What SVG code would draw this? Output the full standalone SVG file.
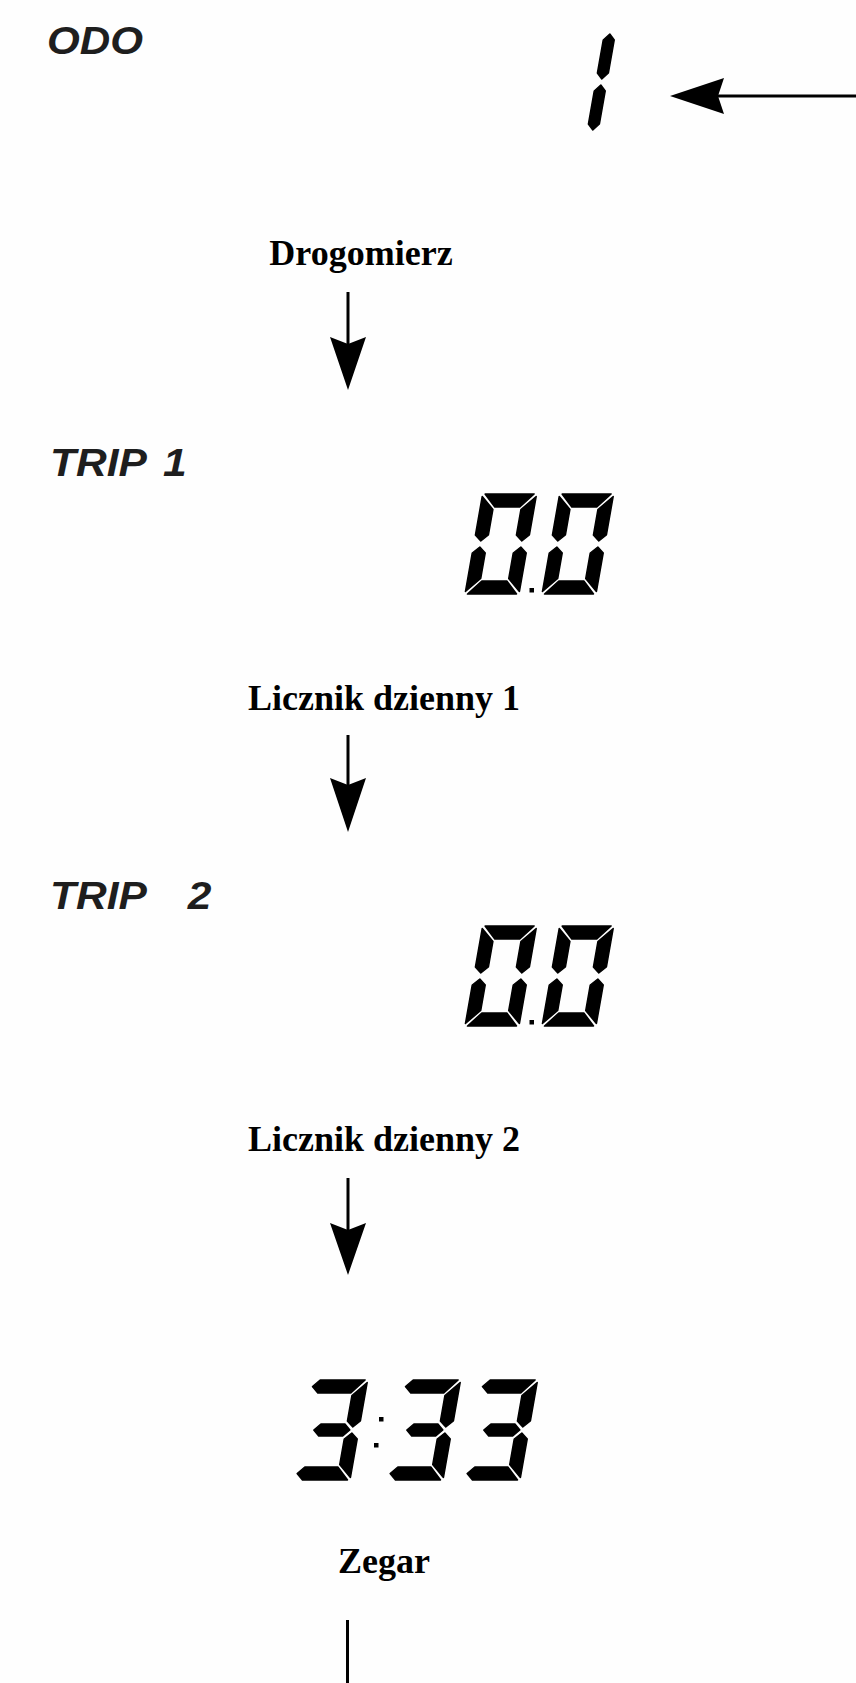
<svg xmlns="http://www.w3.org/2000/svg" xmlns:xlink="http://www.w3.org/1999/xlink" width="856" height="1683" viewBox="0 0 856 1683">
<style>
.lcdlbl{font-family:"Liberation Sans",Arial,sans-serif;font-weight:bold;font-style:italic;font-size:38px;fill:#1e1e1e}
.cap{font-family:"Liberation Serif","Times New Roman",serif;font-weight:bold;font-size:36px;fill:#000;text-anchor:middle}
.seg{fill:#000;stroke:#000;stroke-width:1.5;stroke-linejoin:round}
.ln{stroke:#000;stroke-width:3;fill:none}
.hd{fill:#000}
</style>
<defs>
<g id="d0" class="seg">
<polygon points="2.5,0 51.5,0 39.5,13 14.5,13"/>
<polygon points="0,2.5 13,15.5 13,41 6.5,47 0,41"/>
<polygon points="0,59 6.5,53 13,59 13,84.5 0,97.5"/>
<polygon points="54,2.5 54,41 47.5,47 41,41 41,15.5"/>
<polygon points="54,59 54,97.5 41,84.5 41,59 47.5,53"/>
<polygon points="2.5,100 14.5,87 39.5,87 51.5,100"/>
</g>
<g id="d3" class="seg">
<polygon points="0,6.5 6.5,0 51.5,0 39.5,13 6.5,13"/>
<polygon points="54,2.5 54,41 47.5,47 41,41 41,15.5"/>
<polygon points="9,50 15,44 39,44 45,50 39,56 15,56"/>
<polygon points="54,59 54,97.5 41,84.5 41,59 47.5,53"/>
<polygon points="0,93.5 6.5,87 39.5,87 51.5,100 6.5,100"/>
</g>
<g id="d1" class="seg">
<polygon points="47.5,2 53,8 53,41 47.5,47 42,41 42,8"/>
<polygon points="47.5,53 53,59 53,92 47.5,98 42,92 42,59"/>
</g>
</defs>
<rect x="0" y="0" width="856" height="1683" fill="#fefefe"/>

<g id="odo-label"><text class="lcdlbl" transform="translate(47,54) scale(1.11,1)">ODO</text></g>
<g id="odo-display"><use xlink:href="#d1" href="#d1" transform="translate(545,132) skewX(-10) translate(0,-100)"/></g>

<g id="drogomierz"><text class="cap" x="361" y="265">Drogomierz</text></g>

<g id="trip1-label"><text class="lcdlbl" transform="translate(50,476) scale(1.12,1)">TRIP <tspan x="101">1</tspan></text></g>
<g id="trip1-display">
<use xlink:href="#d0" href="#d0" transform="translate(465,594) skewX(-10) translate(0,-100)"/>
<use xlink:href="#d0" href="#d0" transform="translate(542,594) skewX(-10) translate(0,-100)"/>
<rect x="529.5" y="588" width="4.5" height="4.5" fill="#000"/>
</g>

<g id="licznik1"><text class="cap" x="384" y="710">Licznik dzienny 1</text></g>

<g id="trip2-label"><text class="lcdlbl" transform="translate(50,909) scale(1.12,1)">TRIP <tspan x="123">2</tspan></text></g>
<g id="trip2-display">
<use xlink:href="#d0" href="#d0" transform="translate(465,1026) skewX(-10) translate(0,-100)"/>
<use xlink:href="#d0" href="#d0" transform="translate(542,1026) skewX(-10) translate(0,-100)"/>
<rect x="529.5" y="1020" width="4.5" height="4.5" fill="#000"/>
</g>

<g id="licznik2"><text class="cap" x="384" y="1151">Licznik dzienny 2</text></g>

<g id="clock-display">
<use xlink:href="#d3" href="#d3" transform="translate(296,1480) skewX(-10) translate(0,-100)"/>
<rect x="379" y="1417" width="4.5" height="4.5" fill="#000"/>
<rect x="374" y="1443" width="4.5" height="4.5" fill="#000"/>
<use xlink:href="#d3" href="#d3" transform="translate(389,1480) skewX(-10) translate(0,-100)"/>
<use xlink:href="#d3" href="#d3" transform="translate(466,1480) skewX(-10) translate(0,-100)"/>
</g>

<g id="zegar"><text class="cap" x="384" y="1573">Zegar</text></g>

<g id="connectors">
<line class="ln" x1="856" y1="96" x2="716" y2="96"/>
<polygon class="hd" points="670,96 724,78 718,96 724,114"/>
<line class="ln" x1="348" y1="292" x2="348" y2="345"/>
<polygon class="hd" points="330,337 348,344 366,337 348,390"/>
<line class="ln" x1="348" y1="735" x2="348" y2="786"/>
<polygon class="hd" points="330,778 348,785 366,778 348,832"/>
<line class="ln" x1="348" y1="1178" x2="348" y2="1230"/>
<polygon class="hd" points="330,1223 348,1230 366,1223 348,1275"/>
<line class="ln" x1="347.5" y1="1620" x2="347.5" y2="1683"/>
</g>
</svg>
